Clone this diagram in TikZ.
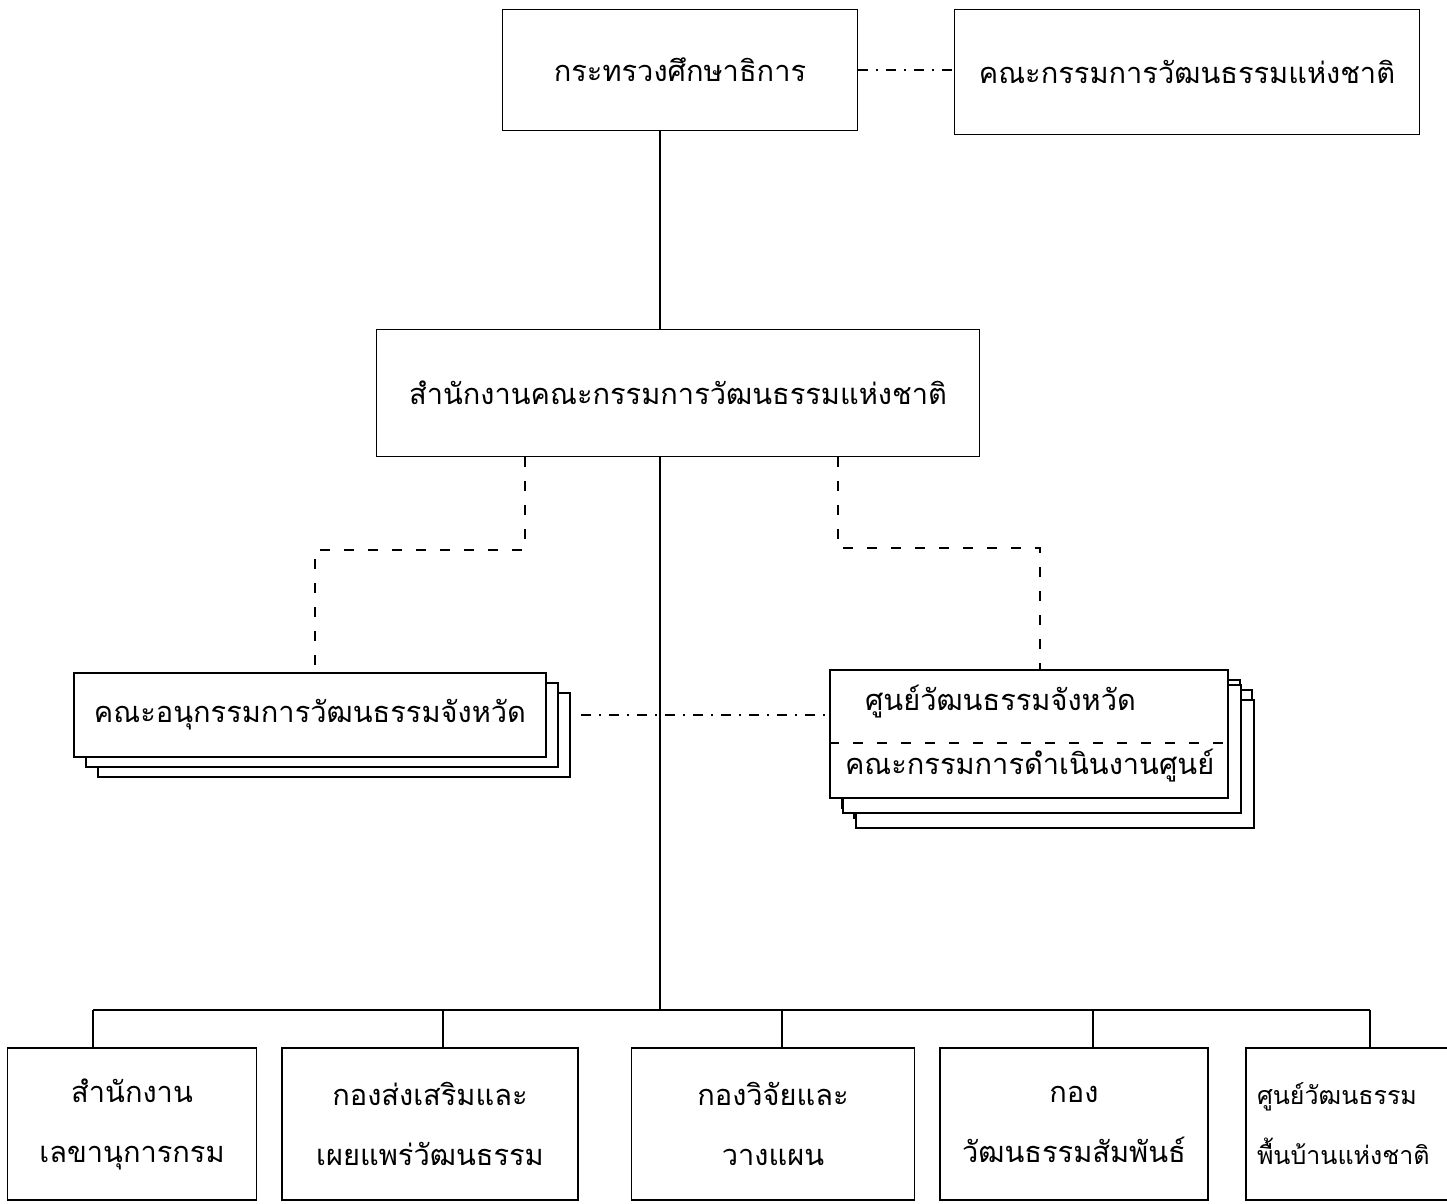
\documentclass[tikz,border=0pt]{standalone}
\usepackage{fontspec}
\newfontfamily\thaifont[Script=Thai]{Loma}
\usetikzlibrary{shadows}

\tikzset{
  unit/.style={draw, fill=white, line width=0.8pt, inner sep=4pt, font=\thaifont\fontsize{14.5}{30}\selectfont},
  stack/.style={unit, double copy shadow={shadow xshift=6pt, shadow yshift=-5pt}},
  dashline/.style={line width=0.8pt, dash pattern=on 5pt off 7pt},
  dotline/.style={line width=0.8pt, dash pattern=on 5pt off 4pt on 1pt off 4pt},
}

\begin{document}
\begin{tikzpicture}[x=0.5pt, y=-0.5pt, line width=0.8pt]

\useasboundingbox (0,0) rectangle (1447,1204);

% draw top units
\node[unit, minimum width=177.5pt, minimum height=60.5pt] (mini) at (680,70) {กระทรวงศึกษาธิการ};
\node[unit, minimum width=232.5pt, minimum height=62.5pt] (ncc) at (1187,72) {คณะกรรมการวัฒนธรรมแห่งชาติ};
\node[unit, minimum width=301.5pt, minimum height=63.5pt] (oncc) at (678,393) {สำนักงานคณะกรรมการวัฒนธรรมแห่งชาติ};

% draw provincial units
\node[stack, minimum width=236pt, minimum height=42pt] (lcc) at (310,715) {คณะอนุกรรมการวัฒนธรรมจังหวัด};
\node[stack, double copy shadow={shadow xshift=6.5pt, shadow yshift=-7.5pt}, minimum width=199pt, minimum height=64pt, align=left, text width=188pt]
  (scc) at (1029,734) {\hspace*{12pt}ศูนย์วัฒนธรรมจังหวัด\\[2pt]\hspace*{2pt}คณะกรรมการดำเนินงานศูนย์};
\draw[dashline] ([yshift=-4.5pt]scc.west) -- ([yshift=-4.5pt]scc.east);

% draw divisions
\node[unit, minimum width=124.5pt, minimum height=76pt, align=center] (div1) at (132,1124) {สำนักงาน\\เลขานุการกรม};
\node[unit, minimum width=148pt, minimum height=76pt, align=center] (div2) at (430,1124) {กองส่งเสริมและ\\เผยแพร่วัฒนธรรม};
\node[unit, minimum width=141.5pt, minimum height=76pt, align=center] (div3) at (773,1124) {กองวิจัยและ\\วางแผน};
\node[unit, minimum width=134pt, minimum height=76pt, align=center] (div4) at (1074,1124) {กอง\\วัฒนธรรมสัมพันธ์};
\node[unit, minimum width=107pt, minimum height=76pt, align=left, text width=96pt, inner sep=2pt,
  font=\thaifont\fontsize{12.5}{30}\selectfont] (div5) at (1353,1124) {ศูนย์วัฒนธรรม\\พื้นบ้านแห่งชาติ};

% draw connectors
\coordinate (trunk) at (660,1010);
\coordinate (ljoin) at (525,550);
\coordinate (rjoin) at (838,548);

\draw[dotline] (mini.east) -- (ncc.west |- mini.east);
\draw (mini.south -| trunk) -- (oncc.north -| trunk);
\draw (oncc.south -| trunk) -- (trunk);

\draw[dashline] (oncc.south -| ljoin) -- (ljoin) -| ([xshift=2.5pt]lcc.north);
\draw[dashline] (oncc.south -| rjoin) -- (rjoin) -| ([xshift=5.5pt]scc.north);
\draw[dotline] ([xshift=17pt]lcc.east) -- (scc.west |- lcc.east);

% draw bus to divisions
\coordinate (d1) at (93,1010);
\coordinate (d2) at (443,1010);
\coordinate (d3) at (782,1010);
\coordinate (d4) at (1093,1010);
\coordinate (d5) at (1370,1010);
\draw (d1) -- (d5);
\foreach \d/\b in {d1/div1, d2/div2, d3/div3, d4/div4, d5/div5}
  \draw (\d) -- (\d |- \b.north);

\end{tikzpicture}
\end{document}
